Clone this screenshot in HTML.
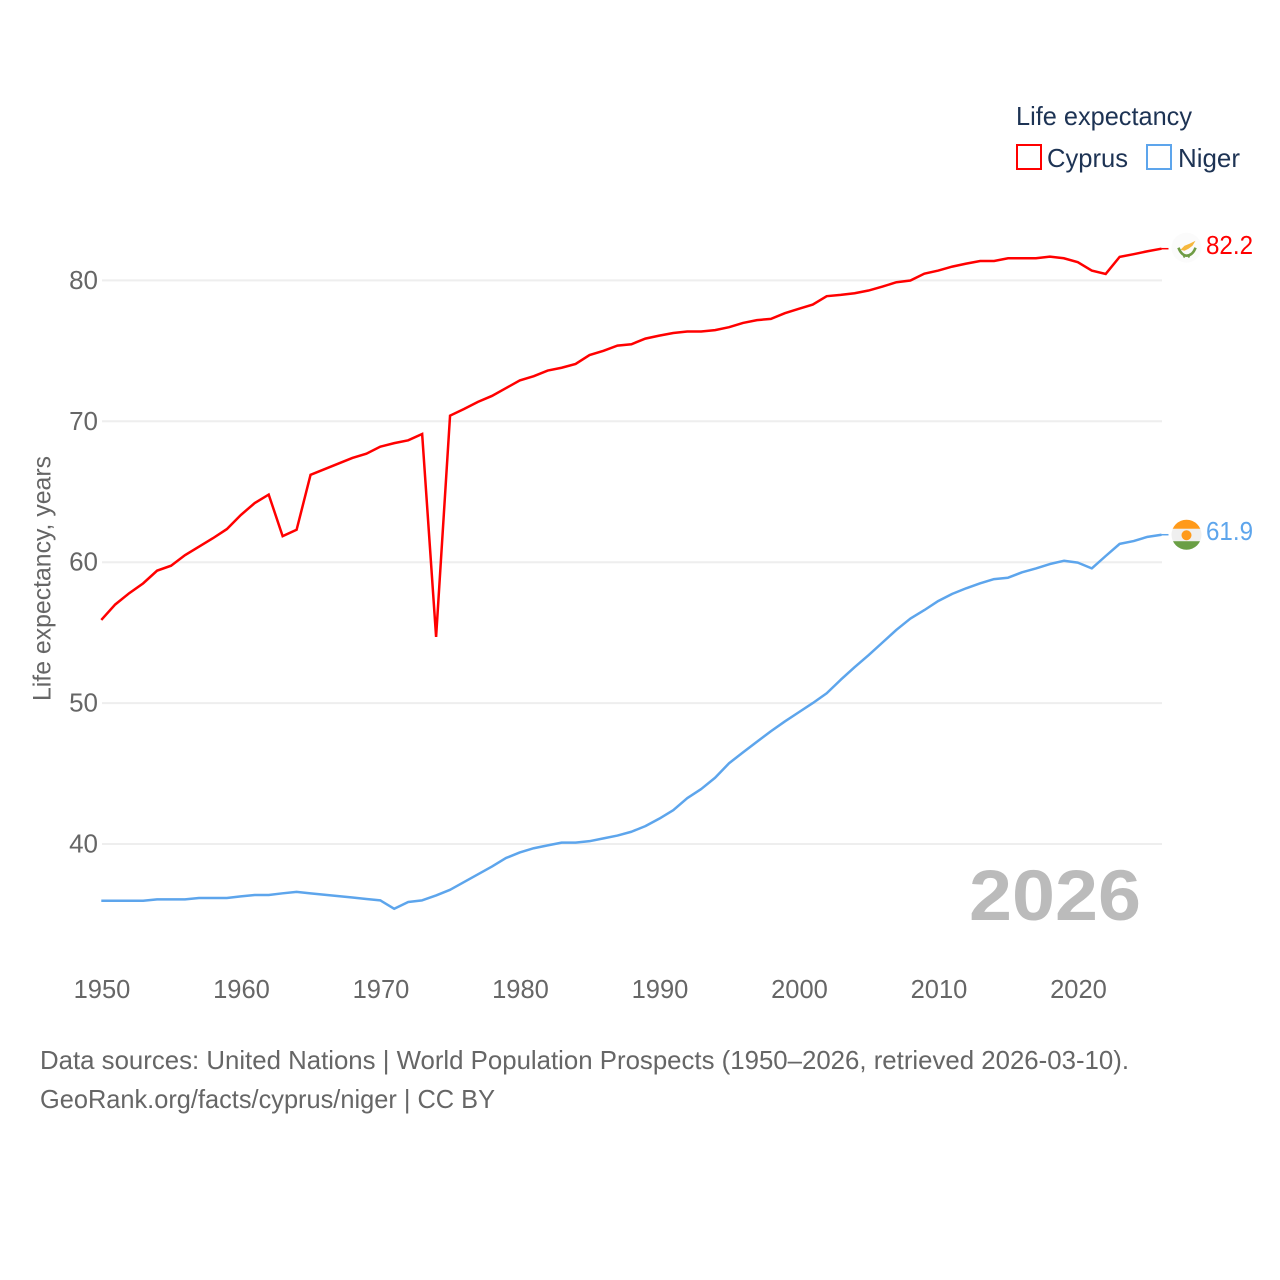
<!DOCTYPE html>
<html lang="en">
<head>
<meta charset="utf-8">
<title>Life expectancy: Cyprus and Niger</title>
<style>
  html, body { margin: 0; padding: 0; background: #fff; }
  svg { display: block; }
  text { font-family: "Liberation Sans", sans-serif; }
</style>
</head>
<body>
<svg id="chart" xmlns="http://www.w3.org/2000/svg" width="1280" height="1280" viewBox="0 0 1280 1280">
  <rect x="0" y="0" width="1280" height="1280" fill="#ffffff"/>
  <g id="grid"></g>
  <g id="y-ticks"></g>
  <g id="x-ticks"></g>
  <text transform="translate(50.5,701) rotate(-90)" font-size="25" fill="#666666" textLength="245" lengthAdjust="spacingAndGlyphs">Life expectancy, years</text>
  <text x="969" y="920" font-size="71" font-weight="700" fill="#bbbbbb" textLength="172" lengthAdjust="spacingAndGlyphs">2026</text>
  <g id="series"></g>

  <g>
    <text x="1016" y="125" font-size="26" fill="#1d3354" textLength="176" lengthAdjust="spacingAndGlyphs">Life expectancy</text>
    <rect x="1017" y="145" width="24" height="24" fill="none" stroke="#ff0000" stroke-width="2"/>
    <text x="1047" y="167" font-size="26" fill="#1d3354" textLength="81" lengthAdjust="spacingAndGlyphs">Cyprus</text>
    <rect x="1147" y="145" width="24" height="24" fill="none" stroke="#5da5ec" stroke-width="2"/>
    <text x="1178" y="167" font-size="26" fill="#1d3354" textLength="62" lengthAdjust="spacingAndGlyphs">Niger</text>
  </g>

  <g id="flag-cyprus">
    <circle cx="0" cy="0" r="15" fill="#fbfbfb"/>
    <path d="M-6,2 L-2,-2 L3,-4 L9,-7 L6,-2 L2,1 L-2,3 Z" fill="#f6b73c"/>
    <path d="M-8,0 C-6,6 -2,8 0,8 C3,8 7,6 9,0" fill="none" stroke="#6f9c45" stroke-width="2.6"/>
    <path d="M-3,8 L-2,10 M3,8 L2,10" fill="none" stroke="#6f9c45" stroke-width="1.5"/>
  </g>
  <g id="flag-niger">
    <clipPath id="niger-clip"><circle cx="0" cy="0" r="15"/></clipPath>
    <g clip-path="url(#niger-clip)">
      <rect x="-15" y="-16" width="30" height="10.5" fill="#ff9a1a"/>
      <rect x="-15" y="-6" width="30" height="13" fill="#efefef"/>
      <rect x="-15" y="6.5" width="30" height="10" fill="#6a9f45"/>
    </g>
    <circle cx="0" cy="0.5" r="5" fill="#ff9a1a"/>
  </g>
  <g id="end-labels"></g>

  <text x="40" y="1069" font-size="26" fill="#666666" textLength="1089" lengthAdjust="spacingAndGlyphs">Data sources: United Nations | World Population Prospects (1950–2026, retrieved 2026-03-10).</text>
  <text x="40" y="1108" font-size="26" fill="#666666" textLength="455" lengthAdjust="spacingAndGlyphs">GeoRank.org/facts/cyprus/niger | CC BY</text>
</svg>

<script>
const startYear = 1950;
const xTickYears = [1950, 1960, 1970, 1980, 1990, 2000, 2010, 2020];
const yTickValues = [40, 50, 60, 70, 80];
const cyprusValues = [
  55.9, 57.0, 57.8, 58.5, 59.4, 59.75, 60.5, 61.1, 61.7, 62.35,
  63.35, 64.2, 64.8, 61.85, 62.3, 66.2, 66.6, 67.0, 67.4, 67.7,
  68.2, 68.45, 68.65, 69.1, 54.7, 70.4, 70.87, 71.38, 71.8, 72.35,
  72.9, 73.2, 73.6, 73.8, 74.07, 74.7, 75.0, 75.37, 75.47, 75.87,
  76.08, 76.27, 76.37, 76.37, 76.47, 76.68, 76.98, 77.18, 77.27, 77.67,
  77.98, 78.28, 78.88, 78.97, 79.09, 79.28, 79.56, 79.87, 79.99, 80.48,
  80.7, 80.98, 81.19, 81.38, 81.38, 81.57, 81.57, 81.57, 81.69, 81.57,
  81.29, 80.7, 80.46, 81.67, 81.86, 82.07, 82.25
];
const nigerValues = [
  35.97, 35.97, 35.97, 35.97, 36.07, 36.07, 36.07, 36.17, 36.17, 36.17,
  36.28, 36.38, 36.38, 36.5, 36.6, 36.5, 36.4, 36.3, 36.2, 36.1,
  36.0, 35.4, 35.88, 36.0, 36.35, 36.75, 37.3, 37.85, 38.4, 39.0,
  39.4, 39.7, 39.9, 40.1, 40.1, 40.2, 40.4, 40.6, 40.87, 41.27,
  41.8, 42.4, 43.25, 43.9, 44.7, 45.73, 46.5, 47.26, 48.0, 48.7,
  49.35, 50.0, 50.7, 51.65, 52.55, 53.4, 54.3, 55.2, 56.0, 56.6,
  57.25, 57.75, 58.15, 58.5, 58.8, 58.9, 59.28, 59.56, 59.87, 60.1,
  59.97, 59.56, 60.44, 61.3, 61.5, 61.8, 61.95
];
const cyprusEndLabel = "82.2";
const nigerEndLabel = "61.9";

const SVG_NS = "http://www.w3.org/2000/svg";
const CYPRUS_COLOR = "#ff0000";
const NIGER_COLOR = "#5da5ec";

function xScale(year) {
  return 101.3 + (year - 1950) * 13.95;
}
function yScale(value) {
  return 844 - (value - 40) * 14.09;
}
function make(tag, attrs, parent) {
  const el = document.createElementNS(SVG_NS, tag);
  for (const key in attrs) {
    el.setAttribute(key, attrs[key]);
  }
  parent.appendChild(el);
  return el;
}

const gridGroup = document.getElementById("grid");
const yTickGroup = document.getElementById("y-ticks");
const xTickGroup = document.getElementById("x-ticks");
const seriesGroup = document.getElementById("series");
const endLabelGroup = document.getElementById("end-labels");

yTickValues.forEach(function (value) {
  const line = make("line", { x1: 102, x2: 1162, y1: yScale(value), y2: yScale(value), stroke: "#eeeeee", "stroke-width": 2 }, gridGroup);
  
  
  const label = make("text", { x: 98, y: yScale(value) + 8.5, "text-anchor": "end", "font-size": 26, fill: "#666666" }, yTickGroup);
  label.textContent = String(value);
  
  
});

xTickYears.forEach(function (year) {
  const label = make("text", { x: xScale(year) + 0.7, y: 998, "text-anchor": "middle", "font-size": 25.5, fill: "#666666" }, xTickGroup);
  label.textContent = String(year);
  
  
});

function linePoints(values) {
  return values.map(function (value, i) {
    return xScale(startYear + i).toFixed(2) + "," + yScale(value).toFixed(2);
  }).join(" ");
}

const cyprusLine = make("polyline", { points: linePoints(cyprusValues), fill: "none", stroke: CYPRUS_COLOR, "stroke-width": 2.5, "stroke-linejoin": "miter" }, seriesGroup);



const nigerLine = make("polyline", { points: linePoints(nigerValues), fill: "none", stroke: NIGER_COLOR, "stroke-width": 2.5, "stroke-linejoin": "round" }, seriesGroup);



const lastYear = startYear + cyprusValues.length - 1;
const cyprusLast = cyprusValues[cyprusValues.length - 1];
const nigerLast = nigerValues[nigerValues.length - 1];

const cyprusTail = make("line", { x1: xScale(lastYear), x2: xScale(lastYear) + 7, y1: yScale(cyprusLast), y2: yScale(cyprusLast), stroke: CYPRUS_COLOR, "stroke-width": 1.5 }, seriesGroup);



const nigerTail = make("line", { x1: xScale(lastYear), x2: xScale(lastYear) + 7, y1: yScale(nigerLast), y2: yScale(nigerLast), stroke: NIGER_COLOR, "stroke-width": 1.5 }, seriesGroup);



document.getElementById("flag-cyprus").setAttribute("transform", "translate(1186.5," + (yScale(cyprusLast) - 1) + ")");
document.getElementById("flag-niger").setAttribute("transform", "translate(1186.5," + yScale(nigerLast) + ")");

const cyprusLabel = make("text", { x: 1206, y: yScale(cyprusLast) + 5.5, "font-size": 25.5, fill: CYPRUS_COLOR, textLength: 47, lengthAdjust: "spacingAndGlyphs" }, endLabelGroup);
cyprusLabel.textContent = cyprusEndLabel;



const nigerLabel = make("text", { x: 1206, y: yScale(nigerLast) + 5.5, "font-size": 25.5, fill: NIGER_COLOR, textLength: 47, lengthAdjust: "spacingAndGlyphs" }, endLabelGroup);
nigerLabel.textContent = nigerEndLabel;


</script>
</body>
</html>
